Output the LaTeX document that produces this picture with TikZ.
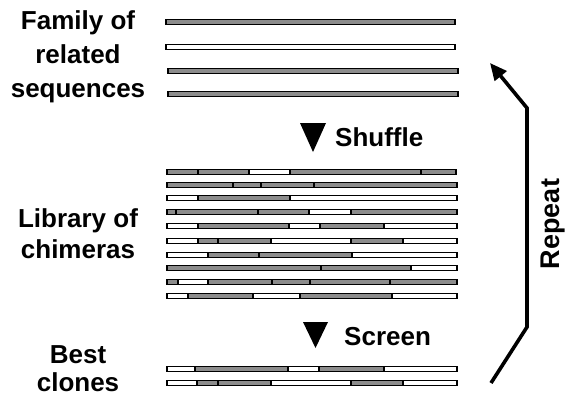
\documentclass[tikz,border=0pt]{standalone}
\usepackage{fontspec}
\setmainfont{Liberation Sans}
\usetikzlibrary{arrows.meta}
\colorlet{segG}{black!45}
\colorlet{segW}{white}
\tikzset{
  barseg/.style={draw=black,line width=1.3pt},
  lbl/.style={font=\bfseries\fontsize{26}{34}\selectfont,align=center,inner sep=0pt},
  steplbl/.style={font=\bfseries\fontsize{26}{30}\selectfont,anchor=west,inner sep=0pt},
  tri/.style={fill=black,draw=none},
  repeatarrow/.style={line width=3.6pt,line join=miter,-{Triangle[length=17pt,width=15pt]}}
}
\newcommand\mybar[2]{%
  \foreach \a/\b/\c in {#2}{\draw[barseg,fill=\c] (\a,#1-2.8) rectangle (\b,#1+2.8);}}
\begin{document}
\begin{tikzpicture}[x=1pt,y=-1pt]
\useasboundingbox (0,0) rectangle (565,396);
% labels
\node[lbl] (fam) at (78,57) {Family of\\related\\sequences};
\node[lbl,font=\bfseries\fontsize{26}{31}\selectfont] (lib) at (78,234) {Library of\\chimeras};
\node[lbl,font=\bfseries\fontsize{26}{28}\selectfont] (best) at (78,369) {Best\\clones};
% top family
\mybar{22}{166/455/segG}
\mybar{47}{166/455/segW}
\mybar{71}{168/458/segG}
\mybar{94}{168/458/segG}
% shuffle
\fill[tri] (300,123) -- (326,123) -- (313,152) -- cycle;
\node[steplbl] (shuf) at (335,137) {Shuffle};
% library
\mybar{172}{167/198/segG,198/249/segG,249/290/segW,290/421/segG,421/456/segG}
\mybar{185}{167/233/segG,233/261/segG,261/314/segG,314/457/segG}
\mybar{198}{167/198/segW,198/290/segG,290/457/segW}
\mybar{212}{167/176/segG,176/258/segG,258/309/segG,309/351/segW,351/457/segG}
\mybar{226}{167/198/segW,198/289/segG,289/320/segW,320/384/segG,384/457/segW}
\mybar{241}{167/198/segW,198/218/segG,218/271/segG,271/351/segW,351/403/segG,403/457/segW}
\mybar{255}{167/208/segW,208/259/segG,259/352/segG,352/457/segW}
\mybar{268}{167/321/segG,321/411/segG,411/457/segW}
\mybar{282}{167/178/segG,178/208/segW,208/272/segG,272/310/segG,310/390/segG,390/457/segG}
\mybar{296}{167/188/segW,188/253/segG,253/300/segW,300/392/segG,392/457/segW}
% screen
\fill[tri] (303,322) -- (328,322) -- (315.5,348) -- cycle;
\node[steplbl] (scr) at (344,337) {Screen};
% best clones
\mybar{369}{167/195/segW,195/288/segG,288/319/segW,319/384/segG,384/457/segW}
\mybar{383}{167/197/segW,197/218/segG,218/271/segG,271/351/segW,351/403/segG,403/457/segW}
% repeat arrow
\coordinate (r0) at (491,383);
\coordinate (r1) at (527,327);
\coordinate (r2) at (527,108);
\coordinate (r3) at (490,63);
\draw[repeatarrow] (r0) -- (r1) -- (r2) -- (r3);
\node[font=\bfseries\fontsize{27}{30}\selectfont,rotate=90,inner sep=0pt] (rep) at (553,224) {Repeat};
\end{tikzpicture}
\end{document}
